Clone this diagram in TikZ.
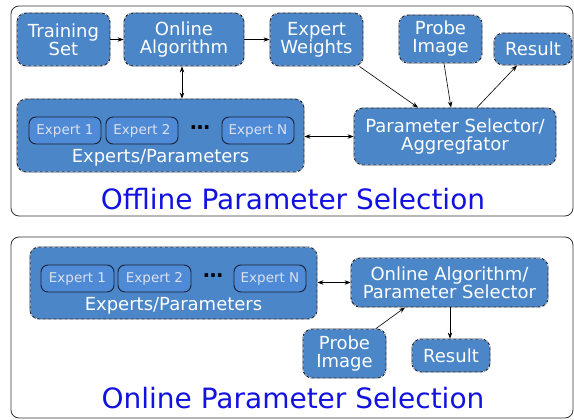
\documentclass[tikz,border=0pt]{standalone}
\usepackage{fontspec}
\setmainfont{DejaVu Sans}
\usetikzlibrary{arrows.meta}
\definecolor{boxblue}{HTML}{4A86C8}
\definecolor{expblue}{HTML}{4F8AD6}
\definecolor{edge}{HTML}{1A2035}
\definecolor{titleblue}{HTML}{1212E0}
\definecolor{exptext}{HTML}{DCE0EE}
\tikzset{
  blk/.style={fill=boxblue, draw=edge, line width=0.9pt, rounded corners=9pt,
    inner sep=0pt, text=white, align=center,
    font=\fontsize{18}{18}\selectfont,
    postaction={draw=white, line width=0.5pt, dash pattern=on 3pt off 2.5pt}},
  expbox/.style={fill=expblue, draw=edge, line width=0.9pt, rounded corners=7pt,
    inner sep=0pt, text=exptext, minimum width=72pt, minimum height=27pt,
    font=\fontsize{13.5}{13.5}\selectfont},
  frame/.style={draw=black!80, line width=0.8pt, rounded corners=8pt},
  ttl/.style={text=titleblue, font=\fontsize{28}{28}\selectfont, inner sep=0pt},
  lbl/.style={text=white, font=\fontsize{18}{18}\selectfont, inner sep=0pt},
  dotsty/.style={inner sep=0pt, font=\bfseries\fontsize{20}{20}\selectfont},
  arr/.style={-{Stealth[length=6pt,width=4.5pt]}, line width=0.6pt, draw=black},
  darr/.style={{Stealth[length=6pt,width=4.5pt]}-{Stealth[length=6pt,width=4.5pt]}, line width=0.6pt, draw=black},
}
\begin{document}
\begin{tikzpicture}[x=1pt,y=-1pt]
\useasboundingbox (0,0) rectangle (574,420);
% frames
\draw[frame] (11,6) rectangle (573,216);
\draw[frame] (11,237) rectangle (573,418);
% top panel
\node[blk, minimum width=93pt, minimum height=53pt] (ts) at (63.5,39.5) {Training\\Set};
\node[blk, minimum width=120pt, minimum height=53pt] (oa) at (184,39.5) {Online\\Algorithm};
\node[blk, minimum width=93pt, minimum height=53pt] (ew) at (316.5,39.5) {Expert\\Weights};
\node[blk, minimum width=83pt, minimum height=48pt] (pi) at (440.5,39) {Probe\\Image};
\node[blk, minimum width=78pt, minimum height=32pt] (res) at (533,49) {Result};
\node[blk, minimum width=287pt, minimum height=73pt] (exp) at (160.5,135.5) {};
\node[expbox] (e1) at (65,130.5) {Expert 1};
\node[expbox] (e2) at (142,130.5) {Expert 2};
\node[expbox] (en) at (258,130.5) {Expert N};
\node[dotsty] (dots) at (200,130) {⋯};
\node[lbl] (explbl) at (160.5,158) {Experts/Parameters};
\node[blk, minimum width=202pt, minimum height=57pt] (ps) at (455,136.5) {Parameter Selector/\\Aggregfator};
\node[ttl] (t1) at (293,199) {Offline Parameter Selection};
\draw[arr] (ts) -- (oa);
\draw[arr] (oa) -- (ew);
\draw[darr] ([xshift=-2pt]oa.south) -- ([xshift=-2pt]oa.south |- exp.north);
\draw[darr] (exp.east |- ps.west) -- (ps.west);
\draw[arr] ([xshift=-4pt]ew.south east) -- ([xshift=-37pt]ps.north);
\draw[arr] ([xshift=3.5pt]pi.south) -- ([xshift=-4pt]ps.north);
\draw[arr] ([xshift=22pt]ps.north) -- ([xshift=-16pt]res.south);
% bottom panel
\node[blk, minimum width=287pt, minimum height=72pt] (exp2) at (173.5,283) {};
\node[expbox, minimum width=73pt] (f1) at (77.5,278.5) {Expert 1};
\node[expbox, minimum width=73pt] (f2) at (154.5,278.5) {Expert 2};
\node[expbox] (fn) at (270,278.5) {Expert N};
\node[dotsty] (dots2) at (213,278) {⋯};
\node[lbl] (explbl2) at (173.5,306) {Experts/Parameters};
\node[blk, minimum width=197pt, minimum height=49pt] (oaps) at (449.5,282.5) {Online Algorithm/\\Parameter Selector};
\node[blk, minimum width=83pt, minimum height=49pt] (pi2) at (344.5,353.5) {Probe\\Image};
\node[blk, minimum width=78pt, minimum height=33pt] (res2) at (451,355.5) {Result};
\node[ttl] (t2) at (293,398) {Online Parameter Selection};
\draw[darr] (exp2.east |- oaps.west) -- (oaps.west);
\draw[arr] ([xshift=31.5pt]pi2.north) -- ([xshift=-44.5pt]oaps.south);
\draw[arr] ([xshift=0.5pt]oaps.south) -- ([xshift=0.5pt]oaps.south |- res2.north);
\end{tikzpicture}
\end{document}
